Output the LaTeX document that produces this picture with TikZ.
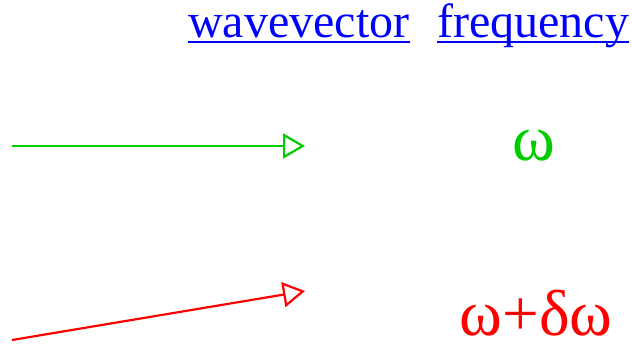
\documentclass[tikz,border=0pt]{standalone}
\usepackage{fontspec}
\setmainfont{Liberation Serif}
\usetikzlibrary{arrows.meta}
\definecolor{lgreen}{RGB}{0,204,0}
\begin{document}
\begin{tikzpicture}[x=1pt,y=-1pt,
  head/.style={font=\fontsize{48}{58}\selectfont, text=blue, inner sep=0pt, anchor=base west},
  uline/.style={blue, line width=2.5pt},
  wave/.style={line width=2.2pt, -{Triangle[open,length=22pt,width=25pt,line width=2.2pt]}},
  freq/.style={font=\fontsize{65}{70}\selectfont, inner sep=0pt, anchor=base, text depth=0pt}]
\useasboundingbox (0,0) rectangle (632,343);
\node[head] (wv) at (188,37) {wavevector};
\node[head] (fr) at (437,37) {frequency};
\draw[uline] (wv.base west) ++(0,5) -- ([yshift=-5pt]wv.base east);
\draw[uline] (fr.base west) ++(0,5) -- ([yshift=-5pt]fr.base east);
\coordinate (g0) at (12,146);
\coordinate (g1) at (305,146);
\draw[wave, lgreen] (g0) -- (g1);
\coordinate (r0) at (12,340);
\coordinate (r1) at (305,291);
\draw[wave, red] (r0) -- (r1);
\node[freq, text=lgreen] (w) at (534,160) {ω};
\node[freq, text=red] (dw) at (536,335) {ω+δω};
\end{tikzpicture}
\end{document}
